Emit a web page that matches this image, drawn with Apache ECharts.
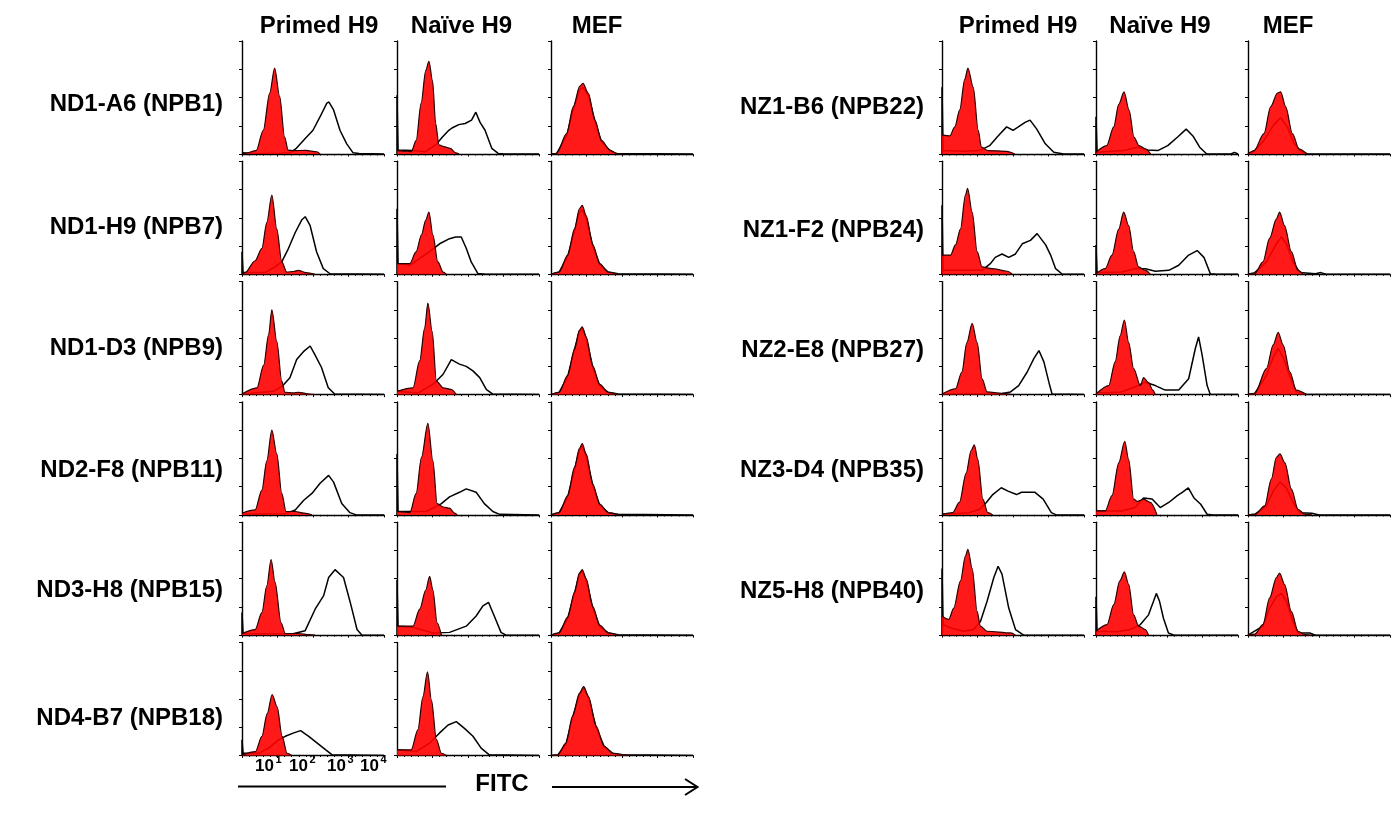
<!DOCTYPE html>
<html><head><meta charset="utf-8">
<script src="https://cdn.jsdelivr.net/npm/echarts@6.0.0/dist/echarts.min.js"></script>
<style>html,body{margin:0;padding:0;background:#fff}#chart{width:1394px;height:813px}</style>
</head><body><div id="chart"></div>
<script>
// ---------- text ----------
const columnTitles = ['Primed H9', 'Naïve H9', 'MEF'];
const leftRowLabels = ['ND1-A6 (NPB1)', 'ND1-H9 (NPB7)', 'ND1-D3 (NPB9)', 'ND2-F8 (NPB11)', 'ND3-H8 (NPB15)', 'ND4-B7 (NPB18)'];
const rightRowLabels = ['NZ1-B6 (NPB22)', 'NZ1-F2 (NPB24)', 'NZ2-E8 (NPB27)', 'NZ3-D4 (NPB35)', 'NZ5-H8 (NPB40)'];
const fitcTickBase = '10';
const fitcTickExponents = ['1', '2', '3', '4'];
const fitcTitle = 'FITC';

// ---------- data: [log10 FITC, % of max count], each row = [Primed H9, Naïve H9, MEF] ----------
// red filled = isotype control, black line = stained sample
const ND1_A6_iso = [
  [[0,0],[0.08,0.5],[0.4,3],[0.6,21],[0.78,54],[0.92,76],[1.06,51],[1.2,15],[1.3,3.5],[1.45,3],[1.8,3.2],[2.1,2],[2.2,0]],
  [[0,3],[0.3,2.5],[0.4,2],[0.54,12],[0.68,45],[0.81,74],[0.9,82],[1.0,65],[1.09,27],[1.18,8],[1.32,6.5],[1.5,5],[1.65,1],[1.75,0]],
  [[0,0],[0.16,0.5],[0.44,18],[0.63,42],[0.81,60],[0.9,62.5],[1.05,54],[1.24,30],[1.42,12],[1.66,3.5],[1.84,0.5],[2.0,0]]
];
const ND1_A6_stain = [
  [[0,1],[0.3,0.5],[1.0,0.5],[1.35,1],[1.53,5],[1.82,15],[2.0,21],[2.2,33],[2.39,45],[2.45,46],[2.58,39],[2.76,21],[2.95,9],[3.13,1],[3.3,0.5],[4,0]],
  [[0,0],[0,52],[0.03,3.5],[0.44,3],[0.8,2],[1.09,8],[1.28,15],[1.46,21],[1.55,23],[1.74,26],[1.92,27],[2.1,30],[2.22,37],[2.34,28],[2.48,21],[2.67,5],[2.85,0.5],[3.03,0],[4,0]],
  [[0,0],[0.16,0.5],[0.44,16],[0.63,40],[0.81,57],[0.9,59],[1.05,52],[1.24,29],[1.42,11],[1.66,3],[1.84,0.5],[4,0]]
];
const ND1_H9_iso = [
  [[0,0],[0.09,1.5],[0.37,12],[0.56,23],[0.7,46],[0.84,70],[0.98,40],[1.12,11],[1.26,2],[1.45,2.5],[1.59,3.5],[1.8,1.5],[2.06,0]],
  [[0,9.5],[0.36,9.5],[0.54,20],[0.69,35],[0.81,48],[0.9,55],[1.01,35],[1.15,11],[1.3,2],[1.39,0]],
  [[0,0],[0.23,2],[0.47,17],[0.66,40],[0.8,58],[0.88,61],[0.99,52],[1.18,26],[1.37,9.5],[1.61,2],[1.89,0]]
];
const ND1_H9_stain = [
  [[0,0],[0,20],[0.03,1.5],[0.65,1.5],[0.93,6.5],[1.12,11],[1.31,23],[1.5,37],[1.68,48],[1.78,51],[1.92,43],[2.1,20],[2.29,5],[2.48,0.5],[4,0]],
  [[0,0],[0,58],[0.03,9.5],[0.36,8],[0.64,14],[0.92,20],[1.2,27],[1.48,31.5],[1.65,33],[1.81,33],[1.95,23],[2.09,11],[2.28,0.6],[2.5,0],[4,0]],
  [[0,0],[0.23,2],[0.47,16],[0.66,38],[0.8,55],[0.88,57],[0.99,50],[1.18,25],[1.37,9],[1.61,2],[1.89,0.5],[4,0]]
];
const ND1_D3_iso = [
  [[0,0.5],[0.42,6],[0.61,26],[0.75,53],[0.84,75],[0.98,47],[1.12,12],[1.21,2],[1.45,1.5],[1.59,2],[1.9,0.5],[2.06,0]],
  [[0,3],[0.45,6],[0.64,30],[0.78,59],[0.87,81],[0.99,56],[1.11,12],[1.3,6],[1.53,4.5],[1.67,0]],
  [[0,0],[0.23,2],[0.47,17],[0.66,40],[0.8,57],[0.88,60],[0.99,51],[1.18,25],[1.37,9],[1.61,2],[1.89,0]]
];
const ND1_D3_stain = [
  [[0,0.5],[0.9,3],[1.12,7],[1.35,15],[1.54,31],[1.73,38],[1.92,43],[2.06,35],[2.24,24],[2.43,6],[2.61,0.5],[4,0]],
  [[0,3],[0.6,1.5],[1.01,9],[1.3,18],[1.53,31],[1.76,27],[1.95,25],[2.14,21],[2.33,15],[2.52,4.5],[2.7,0.5],[4,0]],
  [[0,0],[0.23,2],[0.47,16],[0.66,40],[0.8,56],[0.9,58],[0.99,50],[1.18,24],[1.37,8],[1.61,2],[1.89,0.5],[4,0]]
];
const ND2_F8_iso = [
  [[0,1.5],[0.37,4.4],[0.56,22],[0.7,48],[0.84,75],[0.98,54],[1.12,19],[1.24,3],[1.5,3],[1.75,1.5],[1.97,0]],
  [[0,3],[0.36,2],[0.54,19],[0.69,51],[0.87,81],[1.01,48],[1.13,10],[1.3,7],[1.48,6],[1.62,1.5],[1.7,0]],
  [[0,0],[0.23,2],[0.47,17],[0.66,42],[0.8,59],[0.88,63],[0.99,54],[1.18,27],[1.37,9.5],[1.61,2],[1.89,0]]
];
const ND2_F8_stain = [
  [[0,0.5],[1.22,1],[1.5,4.4],[1.74,13],[1.97,19],[2.2,28],[2.44,35],[2.58,29],[2.81,10],[3.04,2],[3.22,0],[4,0]],
  [[0,0],[0,54],[0.03,3],[0.83,3],[1.01,6],[1.25,10],[1.48,16],[1.76,20],[1.95,23],[2.23,20],[2.46,10],[2.7,3],[2.89,0.5],[4,0]],
  [[0,0],[0.23,2],[0.47,16],[0.66,40],[0.8,57],[0.88,61],[0.99,52],[1.18,26],[1.37,9],[1.61,2],[1.89,0.5],[4,0]]
];
const ND3_H8_iso = [
  [[0,1.5],[0.37,5],[0.56,20],[0.7,44],[0.82,67],[0.93,47],[1.1,11],[1.22,1.5],[1.59,1.5],[1.9,0.5],[2.06,0]],
  [[0,8],[0.45,8],[0.64,23],[0.81,40],[0.92,52],[1.01,40],[1.13,11],[1.25,0]],
  [[0,0],[0.23,2],[0.47,16],[0.66,38],[0.8,55],[0.88,58],[0.99,50],[1.18,25],[1.37,9],[1.61,2],[1.89,0]]
];
const ND3_H8_stain = [
  [[0,0],[0,20],[0.03,1.5],[1.41,1],[1.78,4],[2.06,23],[2.3,35],[2.44,51],[2.62,58],[2.86,51],[3.05,29],[3.24,5],[3.38,0],[4,0]],
  [[0,0],[0,49],[0.03,8],[0.45,7],[1.01,2],[1.48,2.5],[1.95,8],[2.23,17],[2.42,26],[2.58,29],[2.74,17],[2.93,2.5],[3.07,0],[4,0]],
  [[0,0],[0.23,2],[0.47,15],[0.66,37],[0.8,54],[0.88,57],[0.99,49],[1.18,24],[1.37,8],[1.61,2],[1.89,0.5],[4,0]]
];
const ND4_B7_iso = [
  [[0,0.5],[0.38,3.5],[0.56,17],[0.71,37],[0.85,54],[0.99,43],[1.13,17],[1.27,2],[1.4,0]],
  [[0,5],[0.4,5],[0.59,23],[0.73,52],[0.86,74],[0.97,49],[1.11,14],[1.25,2],[1.39,0]],
  [[0,0],[0.19,0.5],[0.42,11],[0.61,35],[0.8,55],[0.92,61],[1.06,52],[1.27,26],[1.5,8],[1.74,2],[2.02,0.6],[2.2,0]]
];
const ND4_B7_stain = [
  [[0,0],[0,14],[0.03,2],[0.47,2],[0.75,6.5],[1.04,14],[1.22,17],[1.46,20],[1.65,22],[1.88,17],[2.12,11],[2.36,5],[2.54,0.6],[4,0]],
  [[0,5],[0.54,3.5],[0.92,11],[1.2,20],[1.44,27],[1.67,30],[1.9,24],[2.14,17],[2.37,6.5],[2.6,0.6],[4,0]],
  [[0,0],[0.19,0.5],[0.42,10],[0.61,34],[0.8,54],[0.92,60],[1.06,51],[1.27,25],[1.5,8],[1.74,2],[2.02,0.6],[4,0]]
];
const NZ1_B6_iso = [
  [[0,17],[0.22,16],[0.36,24],[0.5,39],[0.64,66],[0.73,76],[0.88,59],[1.02,21],[1.11,6],[1.3,3],[1.82,2.4],[2.05,0]],
  [[0,1.5],[0.3,7.4],[0.5,24],[0.64,44],[0.79,55],[0.93,39],[1.07,15],[1.21,7.4],[1.4,4.4],[1.54,0]],
  [[0,0],[0.17,3],[0.45,18],[0.64,42],[0.83,54],[0.92,55],[1.06,42],[1.25,18],[1.44,4.4],[1.67,0]]
];
const NZ1_B6_stain = [
  [[0,0],[0,59],[0.03,3],[0.59,2.4],[1.06,3],[1.34,7.4],[1.58,16],[1.82,24],[2.0,21],[2.15,24],[2.34,28],[2.48,30],[2.67,22],[2.91,9],[3.15,1.5],[3.43,0],[4,0]],
  [[0,0],[0,33],[0.03,1.5],[0.77,3],[1.17,6],[1.45,3.5],[1.74,3],[2.02,7.4],[2.3,15],[2.54,22],[2.73,16],[2.92,6],[3.12,0],[3.8,0],[3.9,1.5],[4,0]],
  [[0,0],[0.17,2.4],[0.45,12],[0.73,26],[0.92,32],[1.11,24],[1.3,9],[1.49,2.4],[1.67,0],[4,0]]
];
const NZ1_F2_iso = [
  [[0,17],[0.24,17],[0.38,26],[0.52,40],[0.66,70],[0.72,76],[0.85,55],[0.99,20],[1.13,6.5],[1.41,5],[1.84,2.7],[1.98,0]],
  [[0,0.5],[0.26,5],[0.45,17],[0.64,40],[0.78,55],[0.92,43],[1.06,20],[1.2,6.5],[1.39,3.5],[1.53,0]],
  [[0,0],[0.19,0.5],[0.42,11],[0.61,32],[0.8,49],[0.89,55],[1.03,43],[1.22,20],[1.41,3.5],[1.55,0]]
];
const NZ1_F2_stain = [
  [[0,0],[0,61],[0.03,3.5],[0.66,3.5],[1.13,3.5],[1.36,9.4],[1.5,15],[1.69,18],[1.88,15],[2.07,18],[2.26,27],[2.49,30],[2.68,36],[2.92,26],[3.06,17],[3.2,5],[3.39,0],[4,0]],
  [[0,0],[0,26],[0.03,1.5],[0.73,2],[1.1,5],[1.39,5],[1.67,2.7],[2.05,3.5],[2.33,8],[2.61,17],[2.85,21],[3.04,15],[3.22,0.6],[3.4,0],[4,0]],
  [[0,0],[0.19,1.5],[0.52,11],[0.8,27],[0.94,33],[1.08,27],[1.27,11],[1.46,1.5],[1.9,0.5],[2.05,1.5],[2.2,0],[4,0]]
];
const NZ2_E8_iso = [
  [[0,0.5],[0.38,5],[0.56,20],[0.7,46],[0.85,63],[0.99,46],[1.13,14],[1.27,2.4],[1.69,1],[1.98,0]],
  [[0,0.5],[0.36,8],[0.54,29],[0.68,52],[0.8,66],[0.92,46],[1.06,23],[1.25,8],[1.34,15],[1.48,10.6],[1.6,4],[1.67,0]],
  [[0,0],[0.19,1],[0.52,23],[0.71,44],[0.85,55],[0.99,44],[1.18,20],[1.36,4],[1.65,0]]
];
const NZ2_E8_stain = [
  [[0,0.5],[1.32,0.6],[1.69,1],[1.93,2.4],[2.16,8],[2.4,20],[2.59,32],[2.73,39],[2.87,29],[3.01,11],[3.1,0.5],[4,0]],
  [[0,1.5],[0.68,2],[1.1,7],[1.39,11],[1.67,8],[1.95,4],[2.33,4],[2.61,14],[2.8,41],[2.89,51],[2.99,35],[3.13,8],[3.22,0],[4,0]],
  [[0,0],[0.19,1],[0.52,17],[0.71,33],[0.85,41],[0.99,33],[1.18,16],[1.36,2.4],[1.65,0],[4,0]]
];
const NZ3_D4_iso = [
  [[0,0.5],[0.3,2],[0.49,11],[0.68,37],[0.82,57],[0.91,62],[1.01,49],[1.15,14],[1.29,2],[1.43,0]],
  [[0,3.5],[0.26,3.5],[0.45,17],[0.64,46],[0.81,65],[0.92,49],[1.06,14],[1.16,12],[1.34,14],[1.53,11],[1.72,0]],
  [[0,0],[0.2,0.6],[0.47,8],[0.66,32],[0.8,51],[0.9,54],[1.04,46],[1.22,23],[1.41,5],[1.6,0.6],[1.8,0]]
];
const NZ3_D4_stain = [
  [[0,0.5],[0.77,2],[1.06,5],[1.25,11],[1.43,18],[1.67,24],[1.86,21],[2.1,18],[2.24,20],[2.43,20],[2.62,20],[2.85,14],[3.08,2],[3.22,0],[4,0]],
  [[0,3.5],[0.73,3.5],[1.1,6.5],[1.34,15],[1.58,14],[1.81,6.5],[2.05,11],[2.29,17],[2.43,20],[2.6,24],[2.76,15],[2.95,9.4],[3.13,0.6],[3.3,0],[4,0]],
  [[0,0],[0.2,0.6],[0.52,8],[0.71,21],[0.9,29],[1.08,24],[1.27,11],[1.46,2],[1.8,1.5],[2.0,0],[4,0]]
];
const NZ5_H8_iso = [
  [[0,17],[0.19,14],[0.33,24],[0.52,48],[0.66,70],[0.73,76],[0.85,59],[0.99,21],[1.08,8],[1.27,3.5],[1.93,2],[2.07,0]],
  [[0,3.5],[0.31,9.4],[0.5,27],[0.67,48],[0.8,56],[0.92,45],[1.06,18],[1.2,8],[1.39,5],[1.48,0]],
  [[0,0],[0.19,1],[0.42,9.4],[0.61,33],[0.8,51],[0.89,55],[1.03,45],[1.22,21],[1.41,3.5],[1.6,0.6],[1.8,0]]
];
const NZ5_H8_stain = [
  [[0,0],[0,59],[0.03,9.4],[0.24,6.5],[0.61,3.5],[0.89,5],[1.08,12],[1.27,30],[1.46,51],[1.58,61],[1.69,54],[1.88,24],[2.07,5],[2.3,0],[4,0]],
  [[0,0],[0,34],[0.03,3.5],[0.59,3],[0.97,5],[1.25,9.4],[1.48,18],[1.62,30],[1.7,37],[1.79,30],[1.9,15],[2.04,2],[2.2,0],[4,0]],
  [[0,0],[0.42,8],[0.61,24],[0.8,34],[0.94,37],[1.08,30],[1.27,12],[1.41,2],[1.74,2],[1.9,0],[4,0]]
];

const leftIso = [ND1_A6_iso, ND1_H9_iso, ND1_D3_iso, ND2_F8_iso, ND3_H8_iso, ND4_B7_iso];
const leftStain = [ND1_A6_stain, ND1_H9_stain, ND1_D3_stain, ND2_F8_stain, ND3_H8_stain, ND4_B7_stain];
const rightIso = [NZ1_B6_iso, NZ1_F2_iso, NZ2_E8_iso, NZ3_D4_iso, NZ5_H8_iso];
const rightStain = [NZ1_B6_stain, NZ1_F2_stain, NZ2_E8_stain, NZ3_D4_stain, NZ5_H8_stain];

// ---------- layout ----------
const panels = [
  { colX: [242, 397, 551], labelRight: 223, labelY: [104, 227, 348, 470, 590, 718], titleX: [319, 461.5, 597], labels: leftRowLabels, iso: leftIso, stain: leftStain },
  { colX: [942, 1096, 1248], labelRight: 924, labelY: [107, 230, 350, 470, 591], titleX: [1018, 1160, 1288], labels: rightRowLabels, iso: rightIso, stain: rightStain }
];
const cellW = 142, cellH = 113, rowTop0 = 41, rowStep = 120.3;
const FONT = '"Liberation Sans", Arial, sans-serif';

const grids = [], xAxes = [], yAxes = [], series = [], graphics = [];
let gi = 0;
panels.forEach(p => {
  p.labels.forEach((lab, r) => {
    for (let c = 0; c < 3; c++) {
      grids.push({ left: p.colX[c], top: rowTop0 + r * rowStep, width: cellW, height: cellH });
      xAxes.push({
        gridIndex: gi, type: 'value', min: 0, max: 4, interval: 1,
        axisLine: { show: true, onZero: false, lineStyle: { color: '#000', width: 1.4 } },
        axisTick: { show: true, length: 2.5, lineStyle: { color: '#000', width: 1 } },
        minorTick: { show: true, splitNumber: 5, length: 1.5, lineStyle: { color: '#000', width: 1 } },
        axisLabel: { show: false }, splitLine: { show: false }
      });
      yAxes.push({
        gridIndex: gi, type: 'value', min: 0, max: 100, interval: 25,
        axisLine: { show: true, onZero: false, lineStyle: { color: '#000', width: 1.4 } },
        axisTick: { show: true, length: 3, lineStyle: { color: '#000', width: 1 } },
        axisLabel: { show: false }, splitLine: { show: false }
      });
      series.push({
        type: 'line', xAxisIndex: gi, yAxisIndex: gi, data: p.stain[r][c],
        symbol: 'none', silent: true, z: 2,
        lineStyle: { color: '#000', width: 1.5 }
      });
      series.push({
        type: 'line', xAxisIndex: gi, yAxisIndex: gi, data: p.iso[r][c],
        symbol: 'none', silent: true, z: 3, smooth: 0.3, smoothMonotone: 'x',
        lineStyle: { color: '#2a0000', width: 1.2 },
        areaStyle: { color: '#ff0000', opacity: 0.9 }
      });
      gi++;
    }
    graphics.push({ type: 'text', x: p.labelRight, y: p.labelY[r],
      style: { text: lab, font: 'bold 24px ' + FONT, fill: '#000', align: 'right', textAlign: 'right', verticalAlign: 'middle', textVerticalAlign: 'middle' } });
  });
  columnTitles.forEach((t, c) => {
    graphics.push({ type: 'text', x: p.titleX[c], y: 26,
      style: { text: t, font: 'bold 24px ' + FONT, fill: '#000', align: 'center', textAlign: 'center', verticalAlign: 'middle', textVerticalAlign: 'middle' } });
  });
});

// FITC tick labels (10^n) under the bottom-left histogram
const tickBaseX = [255, 289, 327, 360];
fitcTickExponents.forEach((e, i) => {
  graphics.push({ type: 'text', x: tickBaseX[i], y: 766,
    style: { text: fitcTickBase, font: 'bold 17px ' + FONT, fill: '#000', align: 'left', textAlign: 'left', verticalAlign: 'middle', textVerticalAlign: 'middle' } });
  graphics.push({ type: 'text', x: tickBaseX[i] + 20.5, y: 760,
    style: { text: e, font: 'bold 11px ' + FONT, fill: '#000', align: 'left', textAlign: 'left', verticalAlign: 'middle', textVerticalAlign: 'middle' } });
});
graphics.push({ type: 'line', shape: { x1: 238, y1: 786.5, x2: 446, y2: 786.5 }, style: { stroke: '#000', lineWidth: 2 } });
graphics.push({ type: 'text', x: 502, y: 784,
  style: { text: fitcTitle, font: 'bold 24px ' + FONT, fill: '#000', align: 'center', textAlign: 'center', verticalAlign: 'middle', textVerticalAlign: 'middle' } });
graphics.push({ type: 'line', shape: { x1: 552, y1: 787, x2: 697, y2: 787 }, style: { stroke: '#000', lineWidth: 2 } });
graphics.push({ type: 'polyline', shape: { points: [[685, 779], [697.5, 787], [685, 795]] }, style: { stroke: '#000', lineWidth: 2, fill: null } });

const chart = echarts.init(document.getElementById('chart'), null, { renderer: 'canvas' });
chart.setOption({
  animation: false,
  backgroundColor: '#fff',
  grid: grids, xAxis: xAxes, yAxis: yAxes, series: series,
  graphic: graphics
});
</script></body></html>
